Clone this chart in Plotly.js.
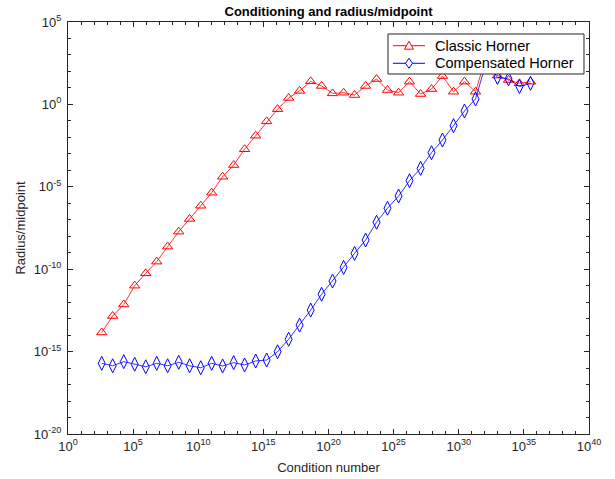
<!DOCTYPE html>
<html>
<head>
<meta charset="utf-8">
<script src="https://cdn.plot.ly/plotly-3.0.1.min.js"></script>
<style>html,body{margin:0;padding:0;background:#fff;}#chart{width:615px;height:479px;}</style>
</head>
<body>
<div id="chart"></div>
<script>
// Condition number exponents (log10)
var condExp = [2.59, 3.43, 4.28, 5.12, 5.97, 6.81, 7.65, 8.50, 9.34, 10.19,
  11.03, 11.87, 12.72, 13.56, 14.41, 15.25, 16.09, 16.94, 17.78, 18.63,
  19.47, 20.31, 21.16, 22.00, 22.85, 23.69, 24.53, 25.38, 26.22, 27.07,
  27.91, 28.75, 29.60, 30.44, 31.29, 32.13, 32.97, 33.82, 34.66, 35.51];
// Radius/midpoint exponents (log10), Classic Horner
var classicExp = [-13.84, -12.84, -12.14, -11.0, -10.25, -9.54, -8.63, -7.72, -6.95, -6.15,
  -5.36, -4.39, -3.68, -2.72, -1.90, -1.03, -0.29, 0.39, 0.82, 1.40,
  1.12, 0.67, 0.71, 0.57, 1.12, 1.54, 0.87, 0.71, 1.38, 0.63,
  0.93, 1.72, 0.77, 1.38, 0.77, 3.0, 1.75, 1.48, 1.28, 1.38];
// Radius/midpoint exponents (log10), Compensated Horner
var compExp = [-15.71, -15.86, -15.61, -15.77, -15.92, -15.71, -15.86, -15.65, -15.86, -15.98,
  -15.71, -15.87, -15.67, -15.81, -15.57, -15.51, -15.01, -14.25, -13.39, -12.48,
  -11.52, -10.72, -9.89, -9.04, -8.23, -7.15, -6.30, -5.56, -4.63, -3.88,
  -2.93, -2.16, -1.29, -0.40, 0.33, 2.6, 1.64, 1.55, 1.08, 1.28];
var seriesNames = ["Classic Horner", "Compensated Horner"];
var seriesColors = ["#ff0000", "#0000ff"];
var xTickExp = [0, 5, 10, 15, 20, 25, 30, 35, 40];
var yTickExp = [-20, -15, -10, -5, 0, 5];

function pw(e) { return Math.pow(10, e); }
var xs = condExp.map(pw);

var traces = [
  {x: xs, y: classicExp.map(pw), name: seriesNames[0], type: 'scatter', mode: 'lines+markers',
   showlegend: false,
   line: {color: seriesColors[0], width: 0.8},
   marker: {symbol: 'triangle-up-open', size: 9, color: seriesColors[0], line: {width: 1}}},
  {x: xs, y: compExp.map(pw), name: seriesNames[1], type: 'scatter', mode: 'lines+markers',
   showlegend: false,
   line: {color: seriesColors[1], width: 0.8},
   marker: {symbol: 'diamond-tall-open', size: 10, color: seriesColors[1], line: {width: 1}}}
];

function minorVals(lo, hi) {
  var v = [];
  for (var e = lo; e <= hi; e++) { if (e % 5 !== 0) v.push(pw(e)); }
  return v;
}

// ---- manual legend box (MATLAB-style, compact) ----
var legBox = {x0: 0.6142, x1: 0.9904, y0: 0.8738, y1: 0.9709};
var legRows = [0.9425, 0.8998];
var legLine = {x0: 0.6238, x1: 0.6852, xm: 0.6545};
var legTextX = 0.7006;
var markerPaths = [
  'M-4.5,-3.5 L4.5,-3.5 L0,4.5 Z',
  'M0,-5 L3.5,0 L0,5 L-3.5,0 Z'
];
var shapes = [{type: 'rect', xref: 'paper', yref: 'paper', x0: legBox.x0, x1: legBox.x1,
  y0: legBox.y0, y1: legBox.y1, fillcolor: '#ffffff', line: {color: '#262626', width: 1}, layer: 'above'}];
var annotations = [];
for (var i = 0; i < 2; i++) {
  shapes.push({type: 'line', xref: 'paper', yref: 'paper', x0: legLine.x0, x1: legLine.x1,
    y0: legRows[i], y1: legRows[i], line: {color: seriesColors[i], width: 1}, layer: 'above'});
  shapes.push({type: 'path', xref: 'paper', yref: 'paper', xsizemode: 'pixel', ysizemode: 'pixel',
    xanchor: legLine.xm, yanchor: legRows[i], path: markerPaths[i],
    fillcolor: '#ffffff', line: {color: seriesColors[i], width: 1}, layer: 'above'});
  annotations.push({xref: 'paper', yref: 'paper', x: legTextX, y: legRows[i], xanchor: 'left',
    yanchor: 'middle', showarrow: false, text: seriesNames[i], font: {size: 14.5, color: '#000'}});
}

var fontFam = 'Liberation Sans, Arial, Helvetica, sans-serif';
var layout = {
  width: 615, height: 479,
  margin: {l: 68, r: 26, t: 22, b: 45},
  paper_bgcolor: '#ffffff', plot_bgcolor: '#ffffff',
  font: {family: fontFam, size: 13, color: '#262626'},
  title: {text: '<b>Conditioning and radius/midpoint</b>', font: {size: 13, color: '#000'},
          x: 0.5, xanchor: 'center', xref: 'paper', y: 0.977, yanchor: 'middle'},
  xaxis: {type: 'log', range: [0, 40], showgrid: false, zeroline: false,
    showline: true, linecolor: '#262626', linewidth: 1, mirror: 'ticks',
    ticks: 'inside', ticklen: 5, tickcolor: '#262626',
    tickvals: xTickExp.map(pw), ticktext: xTickExp.map(function(e){return '10<sup>' + e + '</sup>';}),
    minor: {tickvals: minorVals(0, 40), ticks: 'inside', ticklen: 3, tickcolor: '#262626', showgrid: false},
    title: {text: 'Condition number', font: {size: 13, color: '#262626'}, standoff: 10},
    tickfont: {size: 13}},
  yaxis: {type: 'log', range: [-20, 5], showgrid: false, zeroline: false,
    showline: true, linecolor: '#262626', linewidth: 1, mirror: 'ticks',
    ticks: 'inside', ticklen: 5, tickcolor: '#262626', ticklabelstandoff: 3,
    tickvals: yTickExp.map(pw), ticktext: yTickExp.map(function(e){return '10<sup>' + e + '</sup>';}),
    minor: {tickvals: minorVals(-20, 5), ticks: 'inside', ticklen: 3, tickcolor: '#262626', showgrid: false},
    title: {text: 'Radius/midpoint', font: {size: 13, color: '#262626'}, standoff: 5},
    tickfont: {size: 13}},
  showlegend: false,
  shapes: shapes,
  annotations: annotations
};

Plotly.newPlot('chart', traces, layout, {staticPlot: true, displayModeBar: false});
</script>
</body>
</html>
